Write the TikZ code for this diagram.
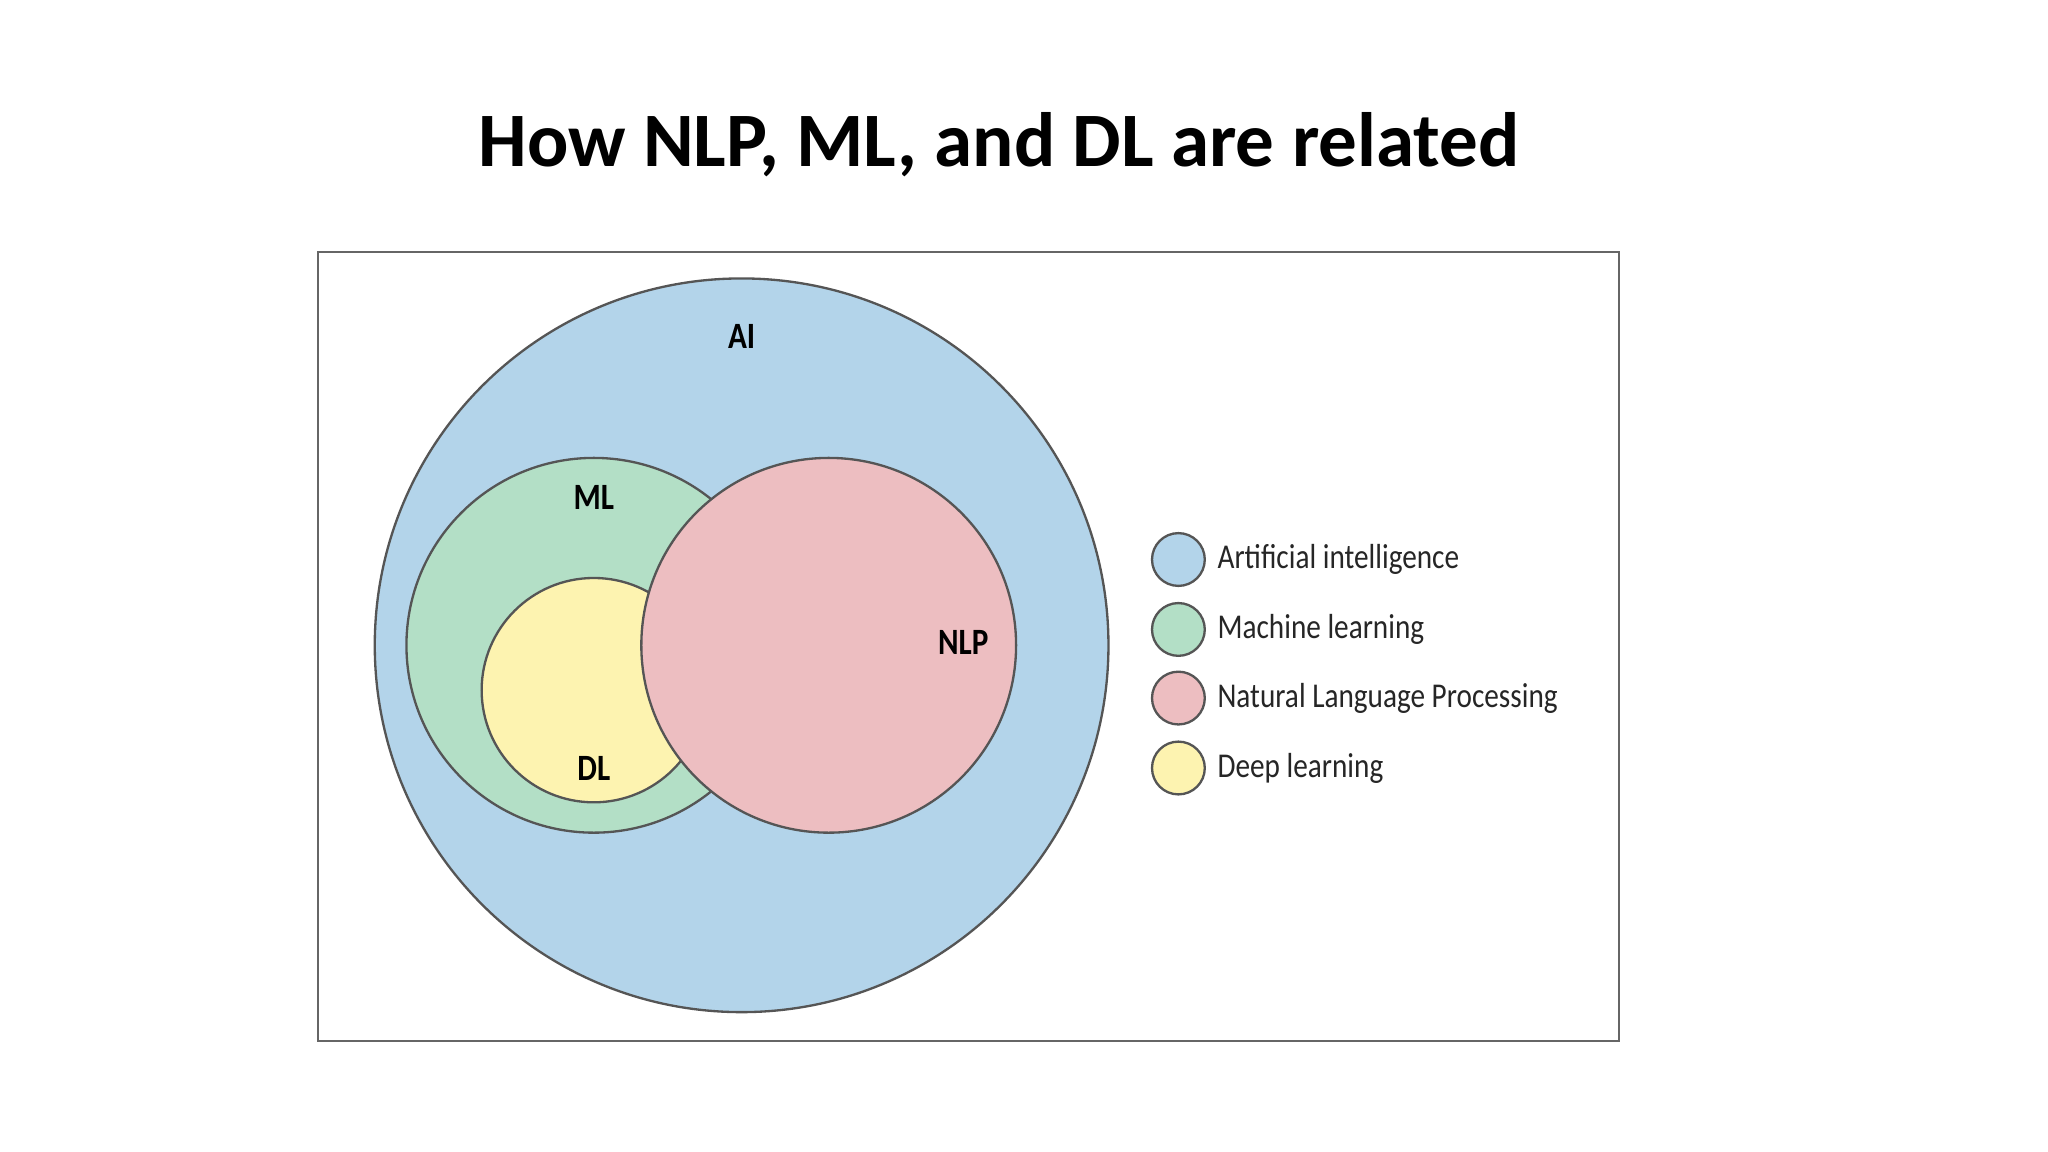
\documentclass[tikz,border=0pt]{standalone}
\usepackage{fontspec}
\setmainfont{Carlito}
\newfontfamily\cond[FakeStretch=0.84]{Carlito}
\definecolor{aiblue}{HTML}{B3D4EA}
\definecolor{mlgreen}{HTML}{B3DFC6}
\definecolor{dlyellow}{HTML}{FDF3B0}
\definecolor{nlppink}{HTML}{EDBEC1}
\definecolor{edge}{HTML}{555555}
\begin{document}
\begin{tikzpicture}[x=0.01cm,y=-0.01cm,
  set/.style={draw=edge,line width=0.5pt},
  lab/.style={font=\cond\fontsize{8}{9}\selectfont\bfseries},
  leg/.style={font=\cond\fontsize{7.5}{9}\selectfont\color{black!85},anchor=west,inner sep=0pt}]
\useasboundingbox (0,0) rectangle (1552,873);
\fill[white] (0,0) rectangle (1552,873);
\node[font=\fontsize{16.6}{20}\selectfont\bfseries] (title) at (757,110) {How NLP, ML, and DL are related};
\draw[draw=black!60,line width=0.5pt] (241,191) rectangle (1227,789);
\draw[set,fill=aiblue] (562,489) circle[radius=278];
\draw[set,fill=mlgreen] (450,489) circle[radius=142];
\draw[set,fill=dlyellow] (450,523) circle[radius=85];
\draw[set,fill=nlppink] (628,489) circle[radius=142];
\node[lab] (ai) at (562,255) {AI};
\node[lab] (ml) at (450,377) {ML};
\node[lab] (dl) at (450,582) {DL};
\node[lab] (nlp) at (730,487) {NLP};
\draw[set,fill=aiblue] (893,424) circle[radius=20];
\draw[set,fill=mlgreen] (893,477) circle[radius=20];
\draw[set,fill=nlppink] (893,529) circle[radius=20];
\draw[set,fill=dlyellow] (893,582) circle[radius=20];
\node[leg] (l1) at (922,424) {Artificial intelligence};
\node[leg] (l2) at (922,477) {Machine learning};
\node[leg] (l3) at (922,529) {Natural Language Processing};
\node[leg] (l4) at (922,582) {Deep learning};
\end{tikzpicture}
\end{document}
